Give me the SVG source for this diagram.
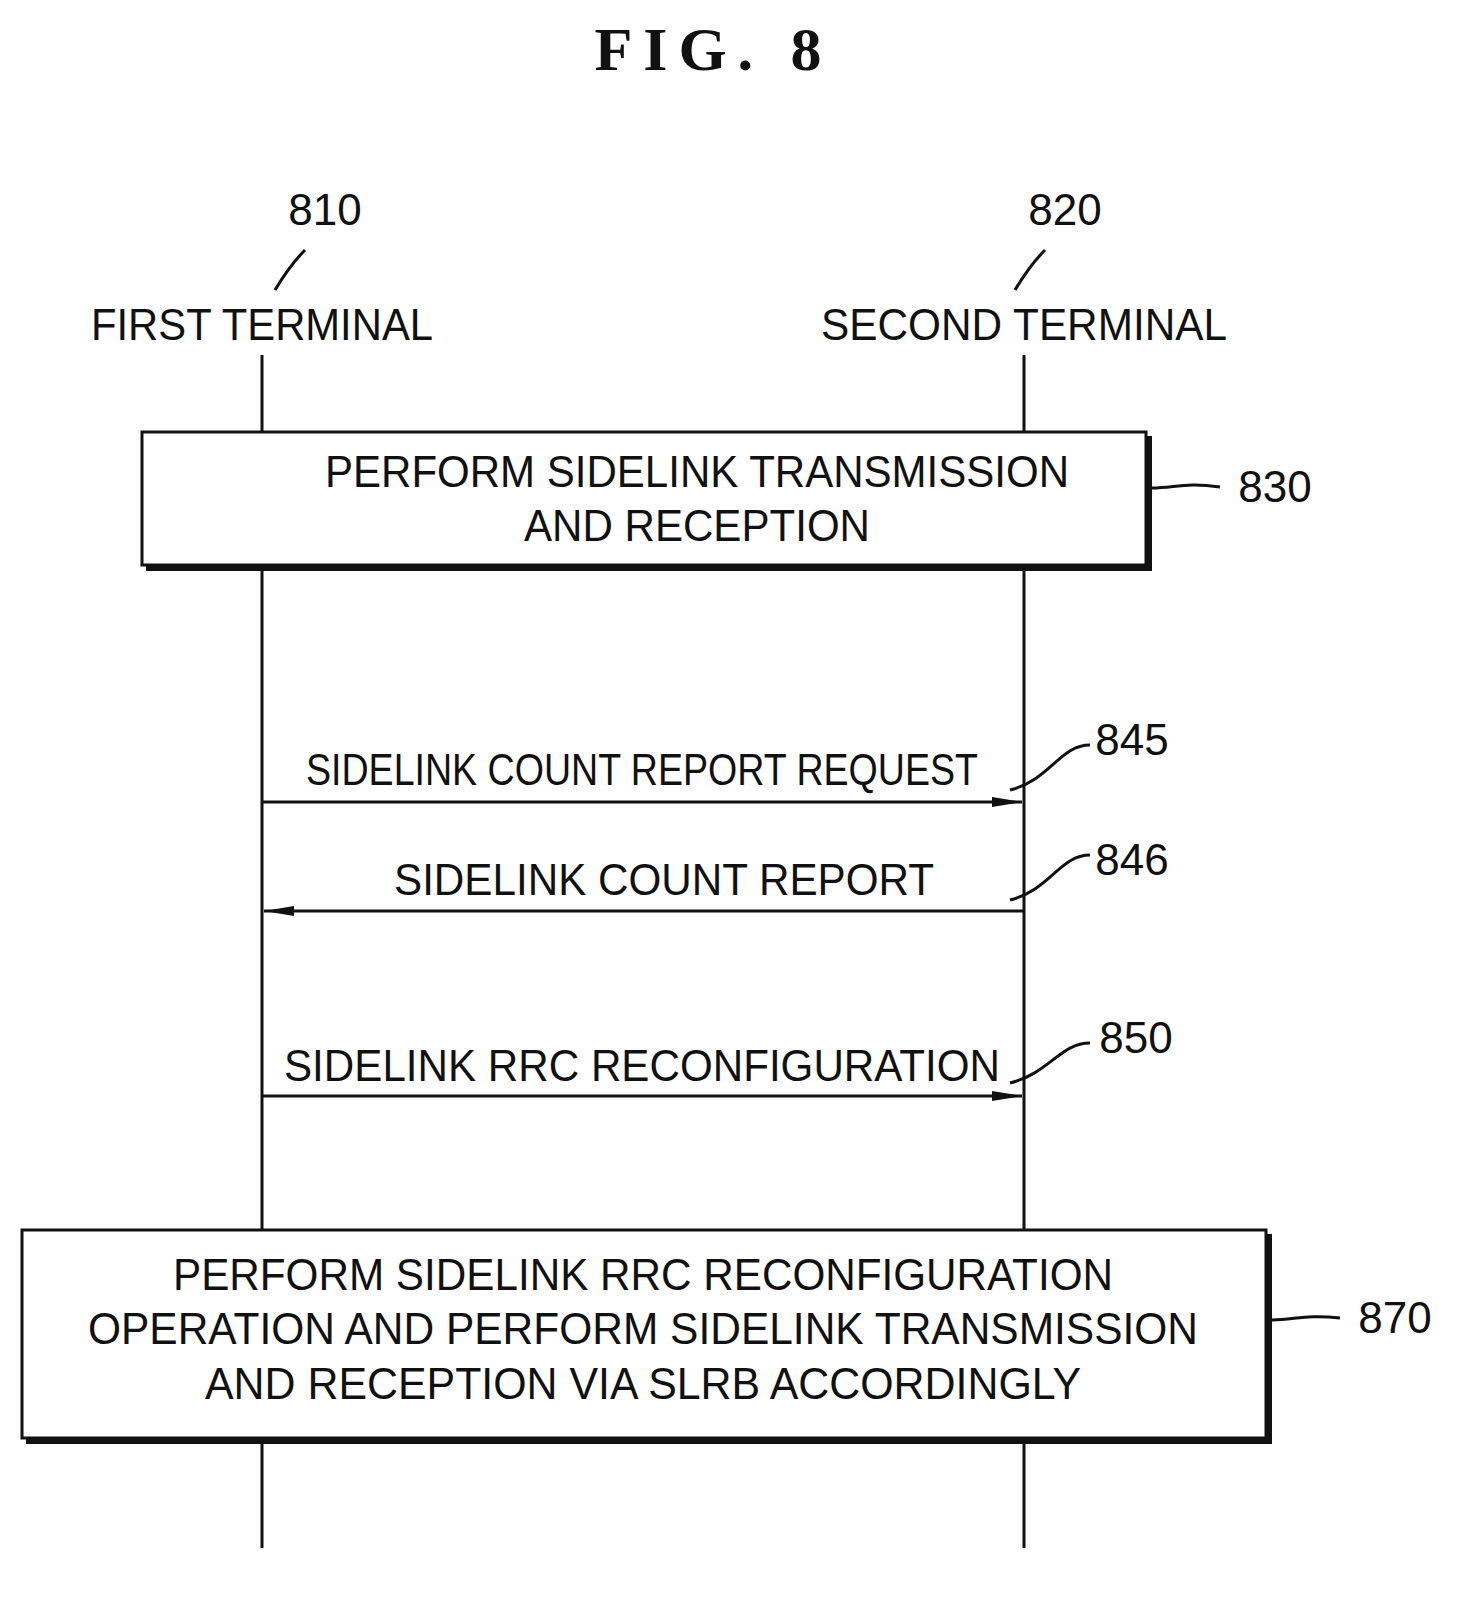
<svg xmlns="http://www.w3.org/2000/svg" width="1479" height="1598" viewBox="0 0 1479 1598">
<style>
text{font-family:"Liberation Sans",Arial,sans-serif;font-size:44px;fill:#111}
.t{text-anchor:middle}
.l{stroke:#111;stroke-width:3;fill:none}
.b{fill:#fff;stroke:#111;stroke-width:3}
</style>
<defs><marker id="a" markerWidth="30" markerHeight="12" refX="30" refY="6" orient="auto" markerUnits="userSpaceOnUse"><path d="M0,1 L30,6 L0,11 Z" fill="#111"/></marker></defs>
<rect width="1479" height="1598" fill="#fff"/>
<text x="708" y="70" class="t" textLength="227" style="font-family:'Liberation Serif',serif;font-weight:bold;font-size:62px">FIG. 8</text>
<g id="lifelines">
<line class="l" x1="262" y1="355" x2="262" y2="1548"/>
<line class="l" x1="1024" y1="355" x2="1024" y2="1548"/>
</g>
<g id="t810"><text x="325" y="225" class="t">810</text><path class="l" d="M275,290 Q290,265 305,250"/><text x="262" y="340" class="t" textLength="342" lengthAdjust="spacingAndGlyphs">FIRST TERMINAL</text></g>
<g id="t820"><text x="1065" y="225" class="t">820</text><path class="l" d="M1015,290 Q1030,265 1045,250"/><text x="1024" y="340" class="t" textLength="406" lengthAdjust="spacingAndGlyphs">SECOND TERMINAL</text></g>
<g id="n830">
<rect x="146" y="436" width="1006" height="135" fill="#111"/>
<rect class="b" x="142" y="432" width="1004" height="133"/>
<text x="697" y="487" class="t" textLength="744" lengthAdjust="spacingAndGlyphs">PERFORM SIDELINK TRANSMISSION</text>
<text x="697" y="541" class="t" textLength="346" lengthAdjust="spacingAndGlyphs">AND RECEPTION</text>
<path class="l" d="M1152,488 C1175,488 1185,482 1220,487"/><text x="1275" y="502" class="t">830</text>
</g>
<g id="connectors">
<line class="l" x1="262" y1="802" x2="1022" y2="802" marker-end="url(#a)"/>
<line class="l" x1="1024" y1="911" x2="264" y2="911" marker-end="url(#a)"/>
<line class="l" x1="262" y1="1096" x2="1022" y2="1096" marker-end="url(#a)"/>
<path class="l" d="M1010,790 C1050,780 1060,745 1090,745"/>
<path class="l" d="M1010,900 C1050,890 1060,855 1090,855"/>
<path class="l" d="M1010,1083 C1050,1073 1060,1043 1090,1043"/>
</g>
<g id="m845"><text x="642" y="785" class="t" textLength="672" lengthAdjust="spacingAndGlyphs">SIDELINK COUNT REPORT REQUEST</text><text x="1132" y="755" class="t">845</text></g>
<g id="m846"><text x="664" y="895" class="t" textLength="540" lengthAdjust="spacingAndGlyphs">SIDELINK COUNT REPORT</text><text x="1132" y="875" class="t">846</text></g>
<g id="m850"><text x="642" y="1081" class="t" textLength="716" lengthAdjust="spacingAndGlyphs">SIDELINK RRC RECONFIGURATION</text><text x="1136" y="1053" class="t">850</text></g>
<g id="n870">
<rect x="26" y="1234" width="1246" height="210" fill="#111"/>
<rect class="b" x="22" y="1230" width="1244" height="208"/>
<text x="643" y="1290" class="t" textLength="940" lengthAdjust="spacingAndGlyphs">PERFORM SIDELINK RRC RECONFIGURATION</text>
<text x="643" y="1344" class="t" textLength="1110" lengthAdjust="spacingAndGlyphs">OPERATION AND PERFORM SIDELINK TRANSMISSION</text>
<text x="643" y="1399" class="t" textLength="876" lengthAdjust="spacingAndGlyphs">AND RECEPTION VIA SLRB ACCORDINGLY</text>
<path class="l" d="M1272,1320 C1295,1320 1305,1314 1340,1318"/><text x="1395" y="1333" class="t">870</text>
</g>
</svg>
